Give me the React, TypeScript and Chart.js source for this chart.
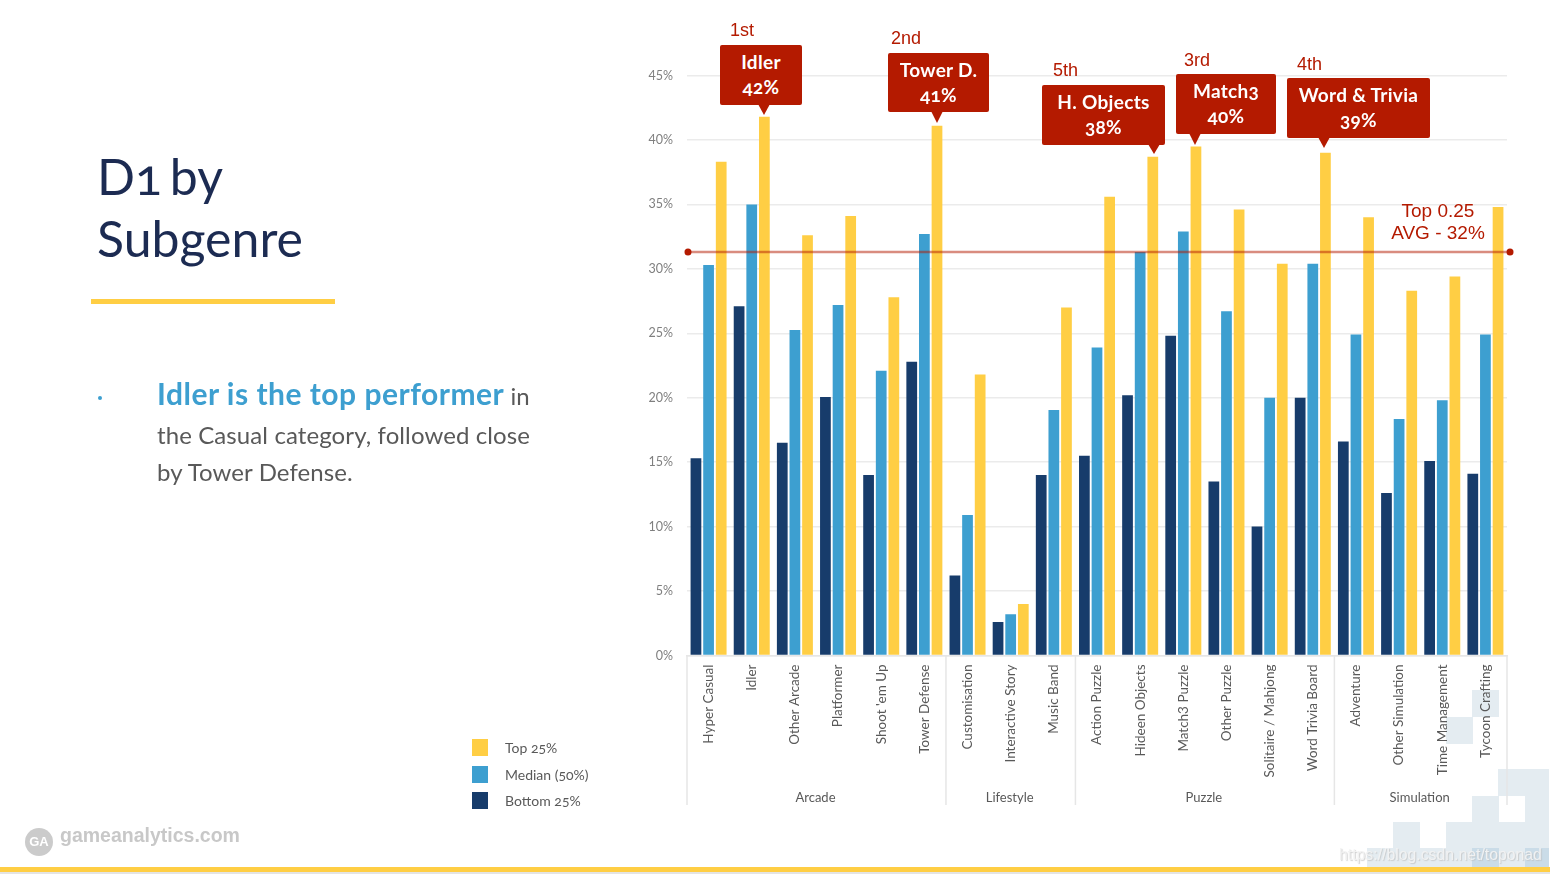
import React, { useEffect, useRef } from "react";
import { Chart, registerables } from "chart.js";

Chart.register(...registerables);

const categories = [
  "Hyper Casual", "Idler", "Other Arcade", "Platformer", "Shoot 'em Up", "Tower Defense",
  "Customisation", "Interactive Story", "Music Band",
  "Action Puzzle", "Hideen Objects", "Match3 Puzzle", "Other Puzzle", "Solitaire / Mahjong", "Word Trivia Board",
  "Adventure", "Other Simulation", "Time Management", "Tycoon Crafting",
];
const groupNames = ["Arcade", "Lifestyle", "Puzzle", "Simulation"];
const groupSizes = [6, 3, 6, 4];
const bottom25 = [15.3, 27.1, 16.5, 20.05, 14.0, 22.8, 6.2, 2.6, 14.0, 15.5, 20.2, 24.8, 13.5, 10.0, 20.0, 16.6, 12.6, 15.1, 14.1];
const median50 = [30.3, 35.0, 25.25, 27.2, 22.1, 32.7, 10.9, 3.2, 19.05, 23.9, 31.3, 32.9, 26.7, 20.0, 30.4, 24.9, 18.35, 19.8, 24.9];
const top25 = [38.3, 41.8, 32.6, 34.1, 27.8, 41.1, 21.8, 4.0, 27.0, 35.6, 38.7, 39.5, 34.6, 30.4, 39.0, 34.0, 28.3, 29.4, 34.8];
const avgLineY = [31.3, 31.3];
const avgLineX = [-0.477, 18.57];

const NAVY = "#173c6b";
const BLUE = "#3d9fd0";
const YELLOW = "#ffce44";
const RED = "#b41a00";
const LATO = "Lato, sans-serif";
const ARIAL = "'Liberation Sans', Arial, sans-serif";

const legendItems = [
  { label: "Top 25%", color: YELLOW, top: 739 },
  { label: "Median (50%)", color: BLUE, top: 766 },
  { label: "Bottom 25%", color: NAVY, top: 792 },
];

const callouts = [
  { rank: "1st", rx: 730, ry: 30, name: "Idler", pct: "42%", x: 720, y: 45, w: 82, h: 60, tip: 763.5, tipY: 115 },
  { rank: "2nd", rx: 891, ry: 38, name: "Tower D.", pct: "41%", x: 888, y: 53, w: 101, h: 59, tip: 937, tipY: 123 },
  { rank: "5th", rx: 1053, ry: 69.5, name: "H. Objects", pct: "38%", x: 1042, y: 85, w: 123, h: 60, tip: 1153.5, tipY: 154 },
  { rank: "3rd", rx: 1184, ry: 60, name: "Match3", pct: "40%", x: 1176, y: 74, w: 100, h: 60, tip: 1195, tipY: 145 },
  { rank: "4th", rx: 1297, ry: 64, name: "Word & Trivia", pct: "39%", x: 1287, y: 78, w: 143, h: 60, tip: 1324, tipY: 148 },
];

const pale = "#e4ecf1";
const paleDark = "#cadce8";
const squares = [
  [1472, 690, 26.5, 27, pale], [1446, 717, 26.5, 26.5, pale],
  [1498, 769, 51, 26.5, pale], [1472, 795.5, 26.5, 26.5, pale], [1525, 795.5, 24, 26.5, pale],
  [1393, 822, 27, 26, pale], [1446, 822, 103, 26, pale],
  [1367, 848, 182, 19, pale], [1472, 848, 26.5, 19, paleDark], [1525, 848, 24, 19, paleDark],
] as const;

const groupPlugin = {
  id: "groups",
  afterDraw(chart: any) {
    const { ctx, scales } = chart;
    const x = scales.x;
    const step = x.width / categories.length;
    ctx.save();
    ctx.strokeStyle = "#e6e6e6";
    ctx.lineWidth = 1.5;
    let cum = 0;
    const line = (px: number) => {
      ctx.beginPath();
      ctx.moveTo(px, x.top);
      ctx.lineTo(px, 805);
      ctx.stroke();
    };
    line(x.left);
    groupSizes.forEach((n, i) => {
      const start = x.left + cum * step;
      cum += n;
      const end = x.left + cum * step;
      line(end);
      ctx.fillStyle = "#595959";
      ctx.font = `13px ${LATO}`;
      ctx.textAlign = "center";
      ctx.textBaseline = "middle";
      ctx.fillText(groupNames[i], (start + end) / 2 - 1, 797.5);
    });
    ctx.restore();
  },
};

const abs = (left: number, top: number, extra: React.CSSProperties = {}): React.CSSProperties => ({
  position: "absolute",
  left,
  top,
  whiteSpace: "nowrap",
  ...extra,
});

export default function App() {
  const ref = useRef<HTMLCanvasElement>(null);
  useEffect(() => {
    const chart = new Chart(ref.current!, {
      type: "bar",
      data: {
        labels: categories,
        datasets: [
          { label: "Bottom 25%", data: bottom25, backgroundColor: NAVY, order: 1, categoryPercentage: 0.878, barPercentage: 0.85 },
          { label: "Median (50%)", data: median50, backgroundColor: BLUE, order: 1, categoryPercentage: 0.878, barPercentage: 0.85 },
          { label: "Top 25%", data: top25, backgroundColor: YELLOW, order: 1, categoryPercentage: 0.878, barPercentage: 0.85 },
          {
            type: "line",
            label: "Top 0.25 AVG",
            parsing: false,
            data: avgLineX.map((x, i) => ({ x, y: avgLineY[i] })),
            borderColor: "rgba(180,26,0,0.5)",
            borderWidth: 2.5,
            pointRadius: 3.5,
            pointBackgroundColor: RED,
            pointBorderWidth: 0,
            clip: false,
            order: 0,
          } as any,
        ],
      },
      options: {
        responsive: false,
        animation: false,
        layout: { padding: { left: 640, top: 75.5, right: 43, bottom: 0 } },
        plugins: { legend: { display: false }, tooltip: { enabled: false } },
        scales: {
          x: {
            type: "category",
            offset: true,
            grid: { display: false, drawTicks: false },
            border: { color: "#e6e6e6", width: 1.5 },
            ticks: {
              autoSkip: false,
              minRotation: 90,
              maxRotation: 90,
              padding: 9,
              color: "#595959",
              font: { family: "Lato", size: 13.5 },
            },
            afterFit(s: any) {
              s.height = 218.5;
              s.paddingLeft = 0;
              s.paddingRight = 0;
            },
          },
          y: {
            min: 0,
            max: 45,
            border: { display: false },
            grid: { color: "#ebebeb", lineWidth: 1.5, drawTicks: false },
            ticks: {
              stepSize: 5,
              padding: 14,
              color: "#7f7f7f",
              font: { family: "Lato", size: 12.5 },
              callback: (v: any) => `${v}%`,
            },
            afterFit(s: any) {
              s.width = 47;
              s.paddingTop = 0;
              s.paddingBottom = 0;
            },
          },
        },
      },
      plugins: [groupPlugin],
    } as any);
    return () => chart.destroy();
  }, []);

  return (
    <div style={{ position: "absolute", left: 0, top: 0, width: 1550, height: 874, overflow: "hidden", background: "#fff", fontFamily: LATO }}>
      {squares.map(([x, y, w, h, c], i) => (
        <div key={i} style={{ position: "absolute", left: x, top: y, width: w, height: h, background: c }} />
      ))}

      <canvas ref={ref} width={1550} height={874} style={{ position: "absolute", left: 0, top: 0, display: "block" }} />

      <div style={abs(97, 145, { fontSize: 50, lineHeight: "62px", color: "#1c2b52", fontVariantNumeric: "oldstyle-nums", fontWeight: 400, wordSpacing: -5 })}>
        D1 by<br />Subgenre
      </div>
      <div style={{ position: "absolute", left: 91, top: 299, width: 244, height: 5, background: YELLOW }} />

      <div style={{ position: "absolute", left: 97.5, top: 396, width: 4, height: 4, borderRadius: 2, background: BLUE }} />
      <div style={abs(157, 374, { fontSize: 24, lineHeight: "38px", color: "#595959" })}>
        <span style={{ color: BLUE, fontWeight: 700, fontSize: 30, letterSpacing: 0.5 }}>Idler is the top performer</span> in
      </div>
      <div style={abs(157, 416, { fontSize: 24, lineHeight: "38px", color: "#595959", letterSpacing: 0.1 })}>the Casual category, followed close</div>
      <div style={abs(157, 453, { fontSize: 24, lineHeight: "38px", color: "#595959", letterSpacing: 0.1 })}>by Tower Defense.</div>

      {callouts.map((c) => (
        <React.Fragment key={c.rank}>
          <div style={abs(c.rx, c.ry - 11, { font: `18px/22px ${ARIAL}`, color: RED })}>{c.rank}</div>
          <div style={{ position: "absolute", left: c.x, top: c.y, width: c.w, height: c.h, background: RED, borderRadius: 2, color: "#fff", fontWeight: 700, fontSize: 19, letterSpacing: 0.3, lineHeight: "25px", textAlign: "center", paddingTop: 4, boxSizing: "border-box", fontVariantNumeric: "oldstyle-nums" }}>
            {c.name}<br />{c.pct}
          </div>
          <div style={{ position: "absolute", left: c.tip - 6, top: c.y + c.h - 1, width: 0, height: 0, borderLeft: "6px solid transparent", borderRight: "6px solid transparent", borderTop: `${c.tipY - c.y - c.h + 1}px solid ${RED}` }} />
        </React.Fragment>
      ))}

      <div style={{ position: "absolute", left: 1378, top: 200, width: 120, textAlign: "center", font: `19px/22px ${ARIAL}`, color: RED }}>
        Top 0.25<br />AVG - 32%
      </div>

      {legendItems.map((l) => (
        <React.Fragment key={l.label}>
          <div style={{ position: "absolute", left: 472, top: l.top, width: 16, height: 17, background: l.color }} />
          <div style={abs(505, l.top, { fontSize: 14, lineHeight: "18px", color: "#595959", fontVariantNumeric: "oldstyle-nums" })}>{l.label}</div>
        </React.Fragment>
      ))}

      <div style={{ position: "absolute", left: 25, top: 828, width: 28, height: 28, borderRadius: 14, background: "#cbcbcb", color: "#fff", font: `bold 13px/28px ${ARIAL}`, textAlign: "center" }}>GA</div>
      <div style={abs(60, 823, { font: `bold 19.5px/24px ${ARIAL}`, color: "#c8c8c8" })}>gameanalytics.com</div>

      <div style={abs(1339, 846, { font: `15.8px/18px ${ARIAL}`, color: "rgba(242,242,242,0.95)", textShadow: "1px 1px 1px rgba(190,190,190,0.7)" })}>https://blog.csdn.net/toponad</div>

      <div style={{ position: "absolute", left: 0, top: 867, width: 1550, height: 5, background: YELLOW }} />
      <div style={{ position: "absolute", left: 0, top: 872, width: 1550, height: 2, background: "#e4e4e4" }} />
    </div>
  );
}
